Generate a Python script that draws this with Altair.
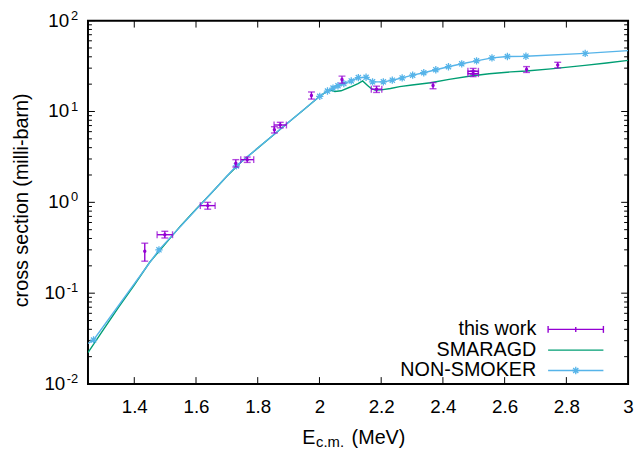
import altair as alt
import pandas as pd

# ---------------- data ----------------
# "this work" measurements
tw_x = [1.434, 1.499, 1.638, 1.729, 1.766, 1.854, 1.873, 1.974, 2.073, 2.185, 2.368, 2.498, 2.498, 2.671, 2.772]
tw_y = [0.29, 0.44, 0.92, 2.70, 2.95, 6.3, 7.1, 15.0, 22.5, 17.6, 19.3, 27.7, 26.1, 29.0, 32.5]
tw_ylo = [0.225, 0.405, 0.84, 2.45, 2.75, 5.8, 6.6, 13.7, 20.5, 16.2, 17.8, 25.6, 24.2, 26.9, 30.2]
tw_yhi = [0.355, 0.48, 1.00, 2.95, 3.15, 6.8, 7.6, 16.4, 24.5, 19.0, 20.8, 29.8, 28.0, 31.2, 34.8]
tw_xerr = [0, 0.025, 0.024, 0, 0.021, 0, 0.02, 0, 0, 0.017, 0, 0.017, 0.017, 0, 0]

# NON-SMOKER (line with asterisk markers)
ns_x = [1.25, 1.268, 1.48, 1.731, 2.001, 2.026, 2.044, 2.06, 2.079, 2.103, 2.126, 2.151, 2.172,
        2.207, 2.236, 2.268, 2.302, 2.338, 2.377, 2.418, 2.461, 2.509, 2.559, 2.609, 2.669, 2.861, 3.0]
ns_y = [0.0279, 0.0305, 0.30, 2.52, 14.7, 16.8, 18.1, 19.2, 20.3, 21.7, 23.6, 23.8, 21.2,
        21.2, 22.1, 23.4, 25.1, 26.7, 28.8, 31.1, 33.5, 36.1, 38.9, 40.3, 40.6, 43.6, 46.8]
ns_marker = [False] + [True] * 25 + [False]

# SMARAGD (smooth line)
sm_x = [1.25, 1.30, 1.35, 1.40, 1.45, 1.50, 1.55, 1.60, 1.65, 1.70, 1.75, 1.80, 1.85, 1.90, 1.95,
        2.00, 2.02, 2.035, 2.05, 2.07, 2.10, 2.125, 2.14, 2.155, 2.167, 2.18, 2.20, 2.23, 2.26,
        2.30, 2.36, 2.42, 2.49, 2.55, 2.62, 2.67, 2.75, 2.86, 2.93, 3.00]
sm_y = [0.0222, 0.0398, 0.0708, 0.123, 0.219, 0.347, 0.55, 0.84, 1.27, 1.94, 2.85, 3.95, 5.48, 7.6, 10.5,
        14.6, 16.3, 17.2, 16.6, 16.9, 18.6, 20.3, 21.7, 19.5, 17.9, 17.2, 17.3, 17.9, 18.8,
        19.6, 20.7, 22.6, 24.6, 26.0, 27.3, 27.9, 29.5, 32.2, 34.2, 36.5]

x_ticks = [1.4, 1.6, 1.8, 2.0, 2.2, 2.4, 2.6, 2.8, 3.0]
y_major = [0.01, 0.1, 1, 10, 100]
y_exp = ["-2", "-1", "0", "1", "2"]
y_minor = [k * 10.0 ** e for e in range(-2, 2) for k in range(2, 10)]

legend_labels = ["this work", "SMARAGD", "NON-SMOKER"]

# ---------------- styling ----------------
PURPLE = "#9400D3"
GREEN = "#009E73"
BLUE = "#56B4E9"
FONT = "Liberation Sans"
W, H = 547, 368

xscale = alt.Scale(domain=[1.25, 3.0], nice=False, zero=False)
yscale = alt.Scale(type="log", domain=[0.01, 100], nice=False)
xaxis = alt.Axis(values=x_ticks, format="~g", ticks=False, domain=False, grid=False,
                 labelFontSize=19, labelFont=FONT, labelColor="black", labelPadding=14,
                 labelFlush=False, title=None)


def X(field="x"):
    return alt.X(f"{field}:Q", scale=xscale, axis=xaxis)


def Y(field="y"):
    return alt.Y(f"{field}:Q", scale=yscale, axis=None)


tw = pd.DataFrame({"x": tw_x, "y": tw_y, "ylo": tw_ylo, "yhi": tw_yhi,
                   "xlo": [a - b for a, b in zip(tw_x, tw_xerr)],
                   "xhi": [a + b for a, b in zip(tw_x, tw_xerr)],
                   "xerr": tw_xerr})
twh = tw[tw["xerr"] > 0]
ns = pd.DataFrame({"x": ns_x, "y": ns_y, "m": ns_marker})
nsm = ns[ns["m"]]
sm = pd.DataFrame({"x": sm_x, "y": sm_y})

layers = []

# minor/major ticks inside the frame
ymaj = pd.DataFrame({"v": y_major, "e": y_exp})
ymin = pd.DataFrame({"v": y_minor})
xt = pd.DataFrame({"v": x_ticks[:-1]})
tick_style = dict(color="black", strokeWidth=1)
layers += [
    alt.Chart(ymaj).mark_rule(**tick_style).encode(y=Y("v"), x=alt.value(0), x2=alt.value(7)),
    alt.Chart(ymaj).mark_rule(**tick_style).encode(y=Y("v"), x=alt.value(W), x2=alt.value(W - 7)),
    alt.Chart(ymin).mark_rule(**tick_style).encode(y=Y("v"), x=alt.value(0), x2=alt.value(4)),
    alt.Chart(ymin).mark_rule(**tick_style).encode(y=Y("v"), x=alt.value(W), x2=alt.value(W - 4)),
    alt.Chart(xt).mark_rule(**tick_style).encode(x=X("v"), y=alt.value(H), y2=alt.value(H - 7)),
    alt.Chart(xt).mark_rule(**tick_style).encode(x=X("v"), y=alt.value(0), y2=alt.value(7)),
]

# y tick labels 10^n
layers += [
    alt.Chart(ymaj[ymaj["v"] >= 1]).mark_text(align="right", baseline="middle", fontSize=19, font=FONT,
                                             color="black").encode(y=Y("v"), x=alt.value(-19), text=alt.value("10")),
    alt.Chart(ymaj[ymaj["v"] < 1]).mark_text(align="right", baseline="middle", fontSize=19, font=FONT,
                                            color="black").encode(y=Y("v"), x=alt.value(-23), text=alt.value("10")),
    alt.Chart(ymaj).mark_text(align="right", baseline="middle", fontSize=13, font=FONT, color="black",
                              dy=-5).encode(y=Y("v"), x=alt.value(-10), text="e:N"),
]

# SMARAGD
layers.append(alt.Chart(sm).mark_line(color=GREEN, strokeWidth=1.4, clip=True).encode(x=X(), y=Y()))

# NON-SMOKER
ast = "M-1,0L1,0M0,-1L0,1M-0.7,-0.7L0.7,0.7M-0.7,0.7L0.7,-0.7"
layers.append(alt.Chart(ns).mark_line(color=BLUE, strokeWidth=1.4, clip=True).encode(x=X(), y=Y()))
layers.append(alt.Chart(nsm).mark_point(shape=ast, filled=False, color=BLUE, strokeWidth=1.3,
                                        size=55, opacity=1, clip=True).encode(x=X(), y=Y()))

# this work error bars
eb = dict(color=PURPLE)
layers += [
    alt.Chart(tw).mark_rule(strokeWidth=1.4, **eb).encode(x=X(), y=Y("ylo"), y2="yhi:Q"),
    alt.Chart(tw).mark_tick(orient="horizontal", size=7, thickness=1.4, **eb).encode(x=X(), y=Y("ylo")),
    alt.Chart(tw).mark_tick(orient="horizontal", size=7, thickness=1.4, **eb).encode(x=X(), y=Y("yhi")),
    alt.Chart(twh).mark_rule(strokeWidth=1.4, **eb).encode(x=X("xlo"), x2="xhi:Q", y=Y()),
    alt.Chart(twh).mark_tick(orient="vertical", size=7, thickness=1.4, **eb).encode(x=X("xlo"), y=Y()),
    alt.Chart(twh).mark_tick(orient="vertical", size=7, thickness=1.4, **eb).encode(x=X("xhi"), y=Y()),
    alt.Chart(tw).mark_circle(size=12, opacity=1, **eb).encode(x=X(), y=Y()),
]

# legend (drawn in the lower-right corner of the plot)
one = pd.DataFrame({"a": [0]})
ly = [312.7, 333.7, 354.3]
lx0, lx1, lxm = 466, 522, 494
for lab, yy in zip(legend_labels, ly):
    layers.append(alt.Chart(one).mark_text(align="right", baseline="middle", fontSize=20, font=FONT,
                                           color="black").encode(x=alt.value(454), y=alt.value(yy),
                                                                 text=alt.value(lab)))
layers += [
    alt.Chart(one).mark_rule(color=PURPLE, strokeWidth=1.4).encode(x=alt.value(lx0), x2=alt.value(lx1), y=alt.value(ly[0])),
    alt.Chart(one).mark_rule(color=PURPLE, strokeWidth=1.4).encode(x=alt.value(lx0), y=alt.value(ly[0] - 3.5), y2=alt.value(ly[0] + 3.5)),
    alt.Chart(one).mark_rule(color=PURPLE, strokeWidth=1.4).encode(x=alt.value(lx1), y=alt.value(ly[0] - 3.5), y2=alt.value(ly[0] + 3.5)),
    alt.Chart(one).mark_rule(color=PURPLE, strokeWidth=1.4).encode(x=alt.value(lxm), y=alt.value(ly[0] - 2.5), y2=alt.value(ly[0] + 2.5)),
    alt.Chart(one).mark_rule(color=GREEN, strokeWidth=1.4).encode(x=alt.value(lx0), x2=alt.value(lx1), y=alt.value(ly[1])),
    alt.Chart(one).mark_rule(color=BLUE, strokeWidth=1.4).encode(x=alt.value(lx0), x2=alt.value(lx1), y=alt.value(ly[2])),
    alt.Chart(one).mark_point(shape=ast, filled=False, color=BLUE, strokeWidth=1.3, size=55, opacity=1).encode(
        x=alt.value(lxm), y=alt.value(ly[2])),
]

# axis titles
layers += [
    alt.Chart(one).mark_text(angle=270, align="center", baseline="middle", fontSize=20, font=FONT,
                             color="black").encode(x=alt.value(-67), y=alt.value(182),
                                                   text=alt.value("cross section (milli-barn)")),
    alt.Chart(one).mark_text(align="left", baseline="alphabetic", fontSize=20, font=FONT,
                             color="black").encode(x=alt.value(217), y=alt.value(429), text=alt.value("E")),
    alt.Chart(one).mark_text(align="left", baseline="alphabetic", fontSize=15, font=FONT,
                             color="black").encode(x=alt.value(231), y=alt.value(432), text=alt.value("c.m.")),
    alt.Chart(one).mark_text(align="left", baseline="alphabetic", fontSize=20, font=FONT,
                             color="black").encode(x=alt.value(267), y=alt.value(429), text=alt.value("(MeV)")),
]

chart = alt.layer(*layers).properties(
    width=W, height=H,
    autosize=alt.AutoSizeParams(type="none"),
    padding={"left": 81, "top": 10, "right": 7, "bottom": 63},
).configure_view(stroke="black", strokeWidth=2)

chart.save("out.html", embed_options={"renderer": "svg", "actions": False})
